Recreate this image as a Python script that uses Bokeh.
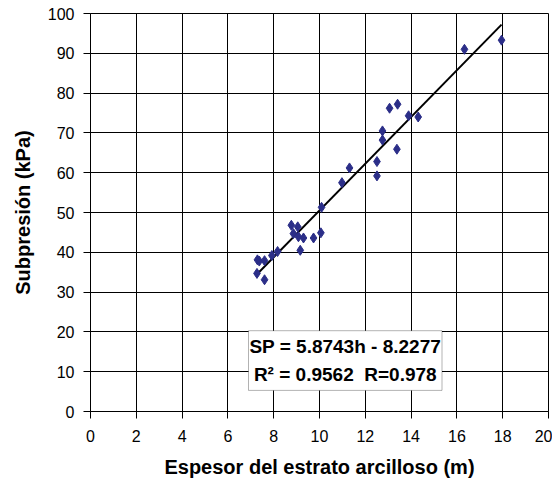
from bokeh.plotting import figure
from bokeh.models import BoxAnnotation, Label, FixedTicker, Range1d
from bokeh.embed import file_html
from bokeh.resources import INLINE

# Data
espesor = [7.29, 7.37, 7.60, 7.27, 7.60, 7.92, 8.17, 8.77, 9.05, 8.86, 9.08, 9.30,
           9.74, 10.06, 9.16, 10.09, 10.98, 11.31, 12.51, 12.51, 12.75, 12.75,
           13.38, 13.06, 13.41, 13.89, 14.31, 16.33, 17.95]
subpresion = [38.1, 37.8, 37.9, 34.7, 33.1, 39.2, 40.2, 46.8, 46.4, 44.7, 43.9, 43.6,
              43.6, 44.9, 40.5, 51.3, 57.5, 61.2, 62.8, 59.2, 68.2, 70.5,
              65.9, 76.2, 77.2, 74.3, 74.0, 91.0, 93.3]
slope = 5.8743
intercept = -8.2277
x_ticks = [0, 2, 4, 6, 8, 10, 12, 14, 16, 18, 20]
y_ticks = [0, 10, 20, 30, 40, 50, 60, 70, 80, 90, 100]
eq_text = "SP = 5.8743h - 8.2277"
r_text = "R\u00b2 = 0.9562 \u00a0R=0.978"

FONT = "Liberation Sans"

p = figure(frame_width=458, frame_height=398, output_backend="svg", toolbar_location=None,
           x_range=Range1d(0, 20), y_range=Range1d(0, 100),
           min_border_left=90, min_border_right=4, min_border_top=13, min_border_bottom=66)
p.width = 552
p.height = 477

p.outline_line_color = "black"
p.outline_line_width = 1
p.background_fill_color = "white"
p.border_fill_color = "white"

for ax, ticks in ((p.xaxis[0], x_ticks), (p.yaxis[0], y_ticks)):
    ax.ticker = FixedTicker(ticks=ticks)
    ax.minor_tick_line_color = None
    ax.major_tick_out = 7
    ax.major_tick_in = 0
    ax.axis_line_color = "black"
    ax.major_tick_line_color = "black"
    ax.major_label_text_font = FONT
    ax.major_label_text_font_size = "16px"
    ax.major_label_text_color = "black"
    ax.axis_label_text_font = FONT
    ax.axis_label_text_font_style = "bold"
    ax.axis_label_text_font_size = "20px"
    ax.axis_label_text_color = "black"

p.xaxis.axis_label = "Espesor del estrato arcilloso (m)"
p.yaxis.axis_label = "Subpresión (kPa)"
p.xaxis.major_label_standoff = 11
p.yaxis.major_label_standoff = 9
p.xaxis.axis_label_standoff = 11
p.yaxis.axis_label_standoff = 11

p.xgrid.ticker = FixedTicker(ticks=x_ticks)
p.ygrid.ticker = FixedTicker(ticks=y_ticks)
p.grid.grid_line_color = "black"
p.grid.grid_line_width = 1

# Regression line across the data range
xmin, xmax = min(espesor), max(espesor)
p.line([xmin, xmax], [slope * xmin + intercept, slope * xmax + intercept],
       line_color="black", line_width=2)

p.scatter(espesor, subpresion, marker="diamond", size=10,
          fill_color="#2B2E88", line_color="#2B2E88")

box = BoxAnnotation(left=6.9, right=15.35, bottom=5.3, top=20.3,
                    fill_color="white", fill_alpha=1.0,
                    line_color="black", line_width=1)
p.add_layout(box)

cx = (6.9 + 15.35) / 2
for txt, yy in ((eq_text, 16.3), (r_text, 9.2)):
    p.add_layout(Label(x=cx, y=yy, text=txt, text_align="center", text_baseline="middle",
                       text_font=FONT, text_font_style="bold", text_font_size="19px",
                       text_color="black"))

open("out.html", "w").write(file_html(p, INLINE))
